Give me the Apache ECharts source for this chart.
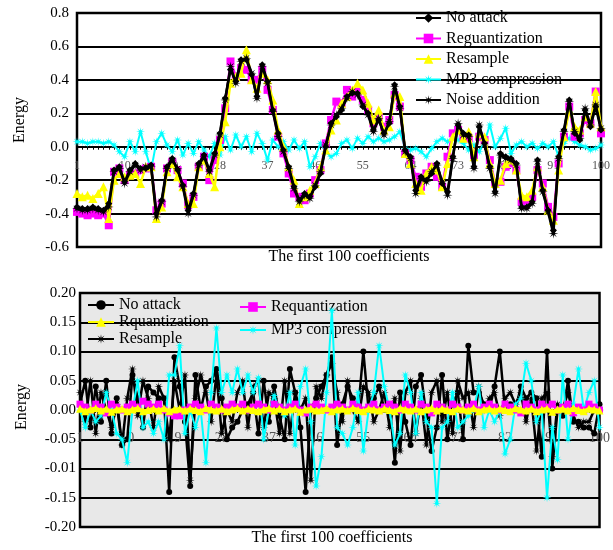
<!DOCTYPE html>
<html>
<head>
<meta charset="utf-8">
<script src="https://cdn.jsdelivr.net/npm/echarts@6/dist/echarts.min.js"></script>
<style>html,body{margin:0;padding:0;background:#fff}#c{width:613px;height:550px}</style>
</head>
<body>
<div id="c"></div>
<script>
const categories = Array.from({length: 100}, (_, i) => String(i + 1));

const topYLabels = ["-0.6", "-0.4", "-0.2", "0.0", "0.2", "0.4", "0.6", "0.8"];
const botYLabels = ["-0.20", "-0.15", "-0.01", "-0.05", "0.00", "0.05", "0.10", "0.15", "0.20"];

// ---- Top panel ----
const topNoAttack = [
  -0.36,-0.37,-0.37,-0.36,-0.37,-0.38,-0.34,-0.14,-0.12,-0.21,
  -0.14,-0.10,-0.13,-0.13,-0.11,-0.40,-0.32,-0.12,-0.07,-0.14,
  -0.23,-0.38,-0.28,-0.10,-0.05,-0.14,-0.04,0.08,0.29,0.46,
  0.39,0.52,0.52,0.43,0.30,0.49,0.39,0.22,0.08,-0.02,
  -0.12,-0.24,-0.32,-0.28,-0.30,-0.24,-0.16,0.00,0.14,0.18,
  0.22,0.30,0.32,0.32,0.24,0.20,0.10,0.16,0.08,0.14,
  0.37,0.24,-0.02,-0.06,-0.26,-0.18,-0.20,-0.16,-0.10,-0.22,
  -0.27,-0.06,0.13,0.08,0.07,-0.12,0.12,0.02,-0.12,-0.27,
  -0.04,-0.06,-0.07,-0.10,-0.36,-0.36,-0.33,-0.08,-0.26,-0.38,
  -0.50,-0.06,0.10,0.28,0.08,0.04,0.22,0.12,0.24,0.10
];
const topRequant = [
  -0.39,-0.40,-0.41,-0.40,-0.41,-0.40,-0.47,-0.15,-0.13,-0.20,
  -0.17,-0.16,-0.14,-0.13,-0.12,-0.38,-0.34,-0.13,-0.09,-0.14,
  -0.22,-0.35,-0.30,-0.12,-0.06,-0.20,-0.08,0.04,0.23,0.51,
  0.42,0.47,0.46,0.40,0.40,0.46,0.34,0.22,0.06,-0.04,
  -0.16,-0.28,-0.30,-0.32,-0.28,-0.20,-0.14,0.02,0.16,0.27,
  0.26,0.34,0.30,0.33,0.28,0.22,0.14,0.18,0.12,0.16,
  0.31,0.24,-0.04,-0.08,-0.18,-0.24,-0.16,-0.12,-0.18,-0.24,
  -0.06,0.08,0.10,0.06,0.05,-0.05,0.06,0.04,-0.08,-0.22,
  -0.21,-0.12,-0.10,-0.14,-0.33,-0.32,-0.30,-0.14,-0.22,-0.36,
  -0.42,-0.10,0.06,0.24,0.06,0.08,0.16,0.14,0.33,0.08
];
const topResample = [
  -0.28,-0.30,-0.29,-0.31,-0.28,-0.24,-0.43,-0.20,-0.16,-0.18,
  -0.17,-0.16,-0.22,-0.12,-0.12,-0.43,-0.36,-0.15,-0.10,-0.18,
  -0.24,-0.34,-0.34,-0.12,-0.08,-0.16,-0.24,0.00,0.15,0.38,
  0.42,0.44,0.58,0.40,0.35,0.44,0.40,0.28,0.10,0.00,
  -0.12,-0.20,-0.34,-0.30,-0.26,-0.22,-0.12,-0.02,0.10,0.16,
  0.26,0.30,0.34,0.38,0.34,0.26,0.16,0.22,0.10,0.12,
  0.32,0.30,-0.04,-0.10,-0.22,-0.26,-0.16,-0.12,-0.14,-0.24,
  -0.10,0.06,0.10,0.05,0.09,-0.06,0.08,0.06,-0.10,-0.22,
  -0.20,-0.10,-0.08,-0.14,-0.29,-0.30,-0.26,-0.12,-0.24,-0.38,
  -0.44,-0.14,0.06,0.22,0.12,0.10,0.18,0.14,0.33,0.12
];
const topMP3 = [
  0.03,0.03,0.02,0.03,0.03,0.02,0.03,0.01,-0.03,-0.06,
  0.03,-0.03,0.09,-0.03,-0.14,0.03,0.08,0.01,-0.03,0.04,
  -0.05,0.02,-0.04,0.03,-0.02,-0.06,0.02,-0.05,0.06,-0.02,
  0.07,0.00,0.06,-0.03,0.08,0.02,-0.08,0.04,0.00,0.03,
  -0.02,0.04,-0.01,0.03,-0.12,-0.06,0.02,-0.03,-0.06,-0.04,
  0.02,0.04,-0.01,0.05,0.02,0.06,0.03,0.05,0.03,0.04,
  0.06,0.09,-0.01,-0.02,-0.01,-0.03,-0.06,-0.01,0.03,0.05,
  0.03,0.06,0.04,0.02,-0.02,0.01,-0.03,0.03,0.13,0.00,
  0.05,0.11,-0.04,0.01,0.03,0.00,0.02,-0.01,0.02,0.00,
  0.03,-0.06,0.02,0.05,0.03,0.01,0.00,-0.02,-0.01,0.01
];
const topNoise = [
  -0.37,-0.38,-0.38,-0.37,-0.38,-0.39,-0.36,-0.15,-0.13,-0.22,
  -0.15,-0.11,-0.14,-0.12,-0.12,-0.42,-0.33,-0.13,-0.08,-0.13,
  -0.24,-0.40,-0.29,-0.11,-0.06,-0.15,-0.05,0.07,0.28,0.48,
  0.38,0.51,0.53,0.44,0.29,0.48,0.38,0.21,0.06,-0.03,
  -0.13,-0.25,-0.33,-0.29,-0.31,-0.23,-0.15,0.01,0.13,0.19,
  0.23,0.29,0.33,0.31,0.25,0.19,0.09,0.17,0.07,0.15,
  0.36,0.23,-0.03,-0.07,-0.28,-0.19,-0.21,-0.15,-0.11,-0.21,
  -0.29,-0.07,0.14,0.07,0.06,-0.13,0.13,0.01,-0.13,-0.28,
  -0.05,-0.07,-0.08,-0.11,-0.37,-0.37,-0.34,-0.09,-0.27,-0.39,
  -0.52,-0.07,0.09,0.27,0.09,0.05,0.23,0.13,0.25,0.11
];

// ---- Bottom panel ----
const botNoAttack = [
  0.01,0.05,-0.03,0.04,-0.02,0.05,-0.04,0.02,-0.06,-0.05,
  0.06,0.02,-0.03,0.04,0.03,0.02,0.02,-0.14,0.09,0.04,
  -0.02,-0.13,0.06,0.00,0.04,0.05,0.07,0.02,-0.05,-0.03,
  -0.02,0.00,0.01,0.03,-0.04,0.05,-0.02,0.04,-0.01,-0.05,
  0.07,0.03,-0.03,-0.14,0.00,0.02,0.04,0.06,0.09,-0.06,
  0.01,0.04,0.02,0.00,0.10,0.00,0.02,0.04,0.00,0.01,
  -0.09,0.03,-0.02,-0.06,0.04,0.06,-0.01,-0.07,-0.03,0.06,
  -0.05,0.01,0.03,-0.05,0.11,0.03,0.03,0.01,0.00,0.04,
  0.10,0.00,0.01,0.00,0.04,0.02,0.03,0.02,-0.08,0.10,
  -0.10,0.00,-0.01,0.05,-0.02,-0.02,-0.03,-0.03,-0.04,0.01
];
const botRquant = [
  0.002,-0.002,0.001,0.003,-0.001,0.002,-0.003,0.001,0.002,-0.002,
  0.001,0.003,-0.002,0.000,0.002,-0.001,0.003,-0.002,0.001,0.002,
  -0.001,0.002,0.000,-0.002,0.003,0.001,-0.001,0.002,-0.002,0.001,
  0.003,-0.001,0.002,0.000,-0.002,0.001,0.003,-0.001,0.002,-0.002,
  0.001,0.002,-0.003,0.001,0.002,-0.001,0.000,0.003,-0.002,0.001,
  0.002,-0.001,0.003,0.000,-0.002,0.002,0.001,-0.001,0.002,0.000,
  -0.002,0.003,0.001,-0.001,0.002,-0.002,0.001,0.003,-0.001,0.002,
  0.000,-0.002,0.002,0.001,-0.001,0.003,-0.002,0.001,0.002,-0.001,
  0.002,0.000,-0.002,0.003,0.001,-0.001,0.002,-0.002,0.001,0.002,
  -0.003,0.001,0.002,-0.001,0.003,0.000,-0.002,0.002,0.001,-0.001
];
const botResample = [
  0.03,-0.02,0.05,-0.04,0.03,0.00,-0.03,0.01,-0.06,0.02,
  0.07,-0.01,0.05,0.02,-0.03,0.04,0.02,-0.05,0.05,0.00,
  0.06,-0.12,0.02,0.06,0.03,-0.02,0.06,-0.04,0.00,-0.02,
  0.03,0.05,-0.03,0.04,0.05,-0.03,0.03,0.02,-0.04,0.05,
  -0.04,0.03,0.00,0.02,-0.12,0.04,0.02,0.06,0.08,0.03,
  -0.02,0.05,0.00,-0.02,0.04,0.03,-0.02,0.00,0.03,-0.03,
  0.02,-0.07,0.03,0.05,-0.04,0.02,-0.06,0.03,0.05,-0.02,
  0.03,-0.04,0.05,0.02,0.03,-0.03,0.04,0.00,0.02,0.03,
  -0.01,0.02,0.03,0.01,0.03,-0.02,0.02,-0.07,0.02,0.03,
  -0.08,0.01,0.00,0.03,-0.01,-0.03,-0.02,-0.02,0.00,0.00
];
const botRequant = [
  0.010,0.005,0.000,0.010,0.005,-0.005,0.010,0.005,0.000,0.005,
  0.010,0.005,0.015,0.010,0.005,0.010,0.000,-0.005,-0.010,-0.010,
  0.000,0.005,0.010,0.005,0.000,0.010,0.005,0.000,0.005,0.010,
  0.005,0.010,0.000,0.005,0.010,0.005,0.000,0.010,0.005,0.000,
  0.005,0.010,0.000,-0.005,0.005,0.010,0.005,0.000,0.005,0.010,
  0.005,0.000,0.010,0.005,0.000,0.005,0.010,0.000,0.005,0.010,
  0.005,0.000,0.010,0.005,0.000,0.010,0.005,-0.005,0.010,0.005,
  0.000,0.010,0.005,0.000,0.005,0.010,0.000,0.005,0.010,0.005,
  0.000,0.010,0.005,0.000,-0.005,0.010,0.005,0.000,0.010,0.005,
  0.010,0.000,0.005,0.010,-0.005,0.005,0.000,0.010,0.005,0.000
];
const botMP3 = [
  0.00,-0.03,0.00,-0.02,-0.01,0.03,0.00,-0.04,-0.05,-0.09,
  0.00,0.05,-0.03,-0.02,-0.04,-0.02,-0.05,0.06,0.06,0.11,
  -0.04,0.00,-0.03,0.00,-0.09,0.03,0.14,0.03,0.06,0.03,
  0.07,0.03,0.06,0.03,0.055,-0.05,0.00,0.025,0.00,-0.01,
  0.03,-0.06,0.04,0.07,-0.02,-0.13,-0.08,0.03,0.17,-0.03,
  -0.04,-0.06,-0.03,0.03,-0.07,0.00,0.03,0.11,0.04,0.00,
  -0.06,-0.04,0.06,0.03,-0.04,0.03,-0.02,-0.03,-0.16,-0.03,
  -0.02,0.03,-0.03,-0.02,-0.01,0.00,0.04,-0.03,0.00,-0.02,
  0.00,-0.075,-0.05,0.01,0.02,0.08,0.05,-0.02,0.00,-0.15,
  -0.03,-0.085,0.06,-0.05,0.01,0.07,0.00,0.03,0.05,-0.03
];

const serif = '"Liberation Serif", "Times New Roman", serif';
const starPath = 'path://M10,0 L2.77,1.15 L7.07,7.07 L1.15,2.77 L0,10 L-1.15,2.77 L-7.07,7.07 L-2.77,1.15 L-10,0 L-2.77,-1.15 L-7.07,-7.07 L-1.15,-2.77 L0,-10 L1.15,-2.77 L7.07,-7.07 L2.77,-1.15 Z';

function mkSeries(name, data, axis, color, symbol, size, z, width) {
  return {
    name: name, type: 'line', xAxisIndex: axis, yAxisIndex: axis, data: data,
    symbol: symbol, symbolSize: size, showSymbol: true, showAllSymbol: true, z: z,
    lineStyle: {color: color, width: width || 2.5},
    itemStyle: {color: color},
    emphasis: {disabled: true}
  };
}

function xAxisCfg(idx, fs, margin) {
  return {
    gridIndex: idx, type: 'category', data: categories, boundaryGap: false,
    axisLine: {onZero: true, lineStyle: {color: '#000', width: 1}},
    axisTick: {show: true, interval: 0, length: 3, lineStyle: {color: '#000'}},
    axisLabel: {interval: 8, color: '#555', fontSize: fs, margin: margin, fontFamily: serif},
    splitLine: {show: false}
  };
}

const chart = echarts.init(document.getElementById('c'));
chart.setOption({
  backgroundColor: '#fff',
  animation: false,
  textStyle: {fontFamily: serif},
  grid: [
    {left: 77, top: 13, width: 531, height: 234, show: true, borderColor: '#000', borderWidth: 2.5, backgroundColor: '#fff'},
    {left: 80, top: 293, width: 531, height: 234, show: true, borderColor: '#000', borderWidth: 2.5, backgroundColor: '#e8e8e8'}
  ],
  xAxis: [xAxisCfg(0, 12, -87), xAxisCfg(1, 14, -96)],
  yAxis: [
    {gridIndex: 0, type: 'value', min: -0.6, max: 0.8, interval: 0.2,
     axisLine: {show: false}, axisTick: {show: false},
     axisLabel: {color: '#000', fontSize: 15, margin: 8, fontFamily: serif,
       formatter: v => topYLabels[Math.round((v + 0.6) / 0.2)]},
     splitLine: {lineStyle: {color: '#000', width: 2}}},
    {gridIndex: 1, type: 'value', min: -0.2, max: 0.2, interval: 0.05,
     axisLine: {show: false}, axisTick: {show: false},
     axisLabel: {color: '#000', fontSize: 15, margin: 4, fontFamily: serif,
       formatter: v => botYLabels[Math.round((v + 0.2) / 0.05)]},
     splitLine: {lineStyle: {color: '#000', width: 2}}}
  ],
  legend: [
    {orient: 'vertical', left: 410, top: 5, itemGap: 4.5, itemWidth: 25, itemHeight: 12,
     textStyle: {fontSize: 16, color: '#000', fontFamily: serif},
     data: ['No attack', 'Reguantization', 'Resample', 'MP3 compression', 'Noise addition']},
    {orient: 'vertical', left: 82, top: 292, itemGap: 1, itemWidth: 26, itemHeight: 12,
     textStyle: {fontSize: 16, color: '#000', fontFamily: serif},
     data: ['No attack ', 'Rquantization', 'Resample ']},
    {orient: 'vertical', left: 234, top: 294, itemGap: 7, itemWidth: 26, itemHeight: 12,
     textStyle: {fontSize: 16, color: '#000', fontFamily: serif},
     data: ['Requantization', 'MP3 compression ']}
  ],
  graphic: [
    {type: 'text', x: 20, y: 120, rotation: Math.PI / 2,
     style: {text: 'Energy', fontSize: 16, fontFamily: serif, fill: '#000', align: 'center', verticalAlign: 'middle'}},
    {type: 'text', x: 22, y: 407, rotation: Math.PI / 2,
     style: {text: 'Energy', fontSize: 16, fontFamily: serif, fill: '#000', align: 'center', verticalAlign: 'middle'}},
    {type: 'text', x: 349, y: 257,
     style: {text: 'The first 100 coefficients', fontSize: 16, fontFamily: serif, fill: '#000', align: 'center', verticalAlign: 'middle'}},
    {type: 'text', x: 332, y: 538,
     style: {text: 'The first 100 coefficients', fontSize: 16, fontFamily: serif, fill: '#000', align: 'center', verticalAlign: 'middle'}}
  ],
  series: [
    mkSeries('No attack', topNoAttack, 0, '#000', 'diamond', 7, 5),
    mkSeries('Reguantization', topRequant, 0, '#ff00ff', 'rect', 8, 3),
    mkSeries('Resample', topResample, 0, '#ffff00', 'triangle', 9, 4),
    mkSeries('MP3 compression', topMP3, 0, '#00ffff', starPath, 9, 2, 2),
    mkSeries('Noise addition', topNoise, 0, '#000', starPath, 10, 6),

    mkSeries('No attack ', botNoAttack, 1, '#000', 'circle', 6, 4, 2.5),
    mkSeries('Rquantization', botRquant, 1, '#ffff00', 'triangle', 8, 7, 3.5),
    mkSeries('Resample ', botResample, 1, '#000', starPath, 9, 3, 2.5),
    mkSeries('Requantization', botRequant, 1, '#ff00ff', 'rect', 7, 6, 2.5),
    mkSeries('MP3 compression ', botMP3, 1, '#00ffff', starPath, 9, 5, 2)
  ]
});
</script>
</body>
</html>
